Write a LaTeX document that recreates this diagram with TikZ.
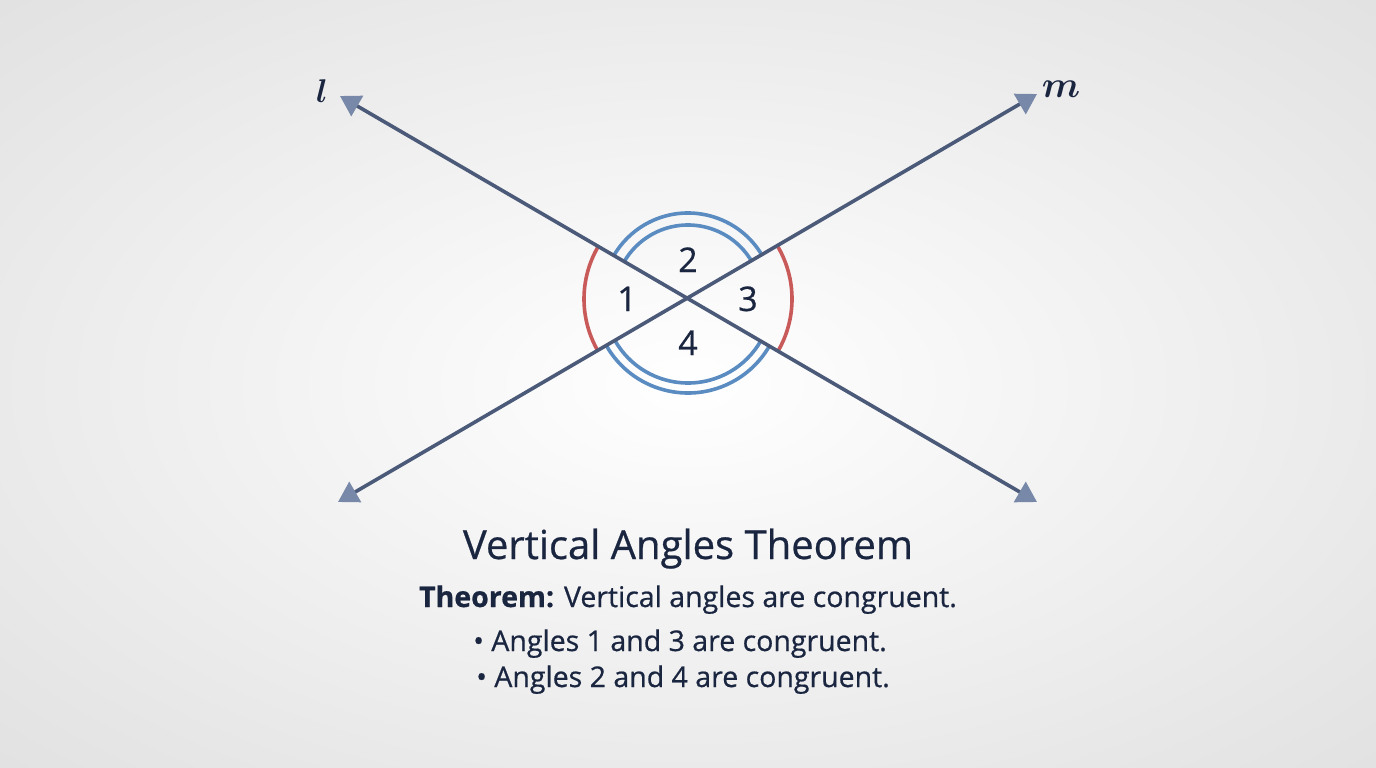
\documentclass[tikz,border=0pt]{standalone}
\usepackage{fontspec}
\setmainfont{Open Sans}
\newfontfamily\medfont{Open Sans}[FakeBold=0.6]
\usetikzlibrary{arrows.meta,calc}
\definecolor{linec}{HTML}{4B5A78}
\definecolor{tipc}{HTML}{7888A8}
\definecolor{redc}{HTML}{C85A5A}
\definecolor{bluec}{HTML}{5A8CC2}
\definecolor{txtc}{HTML}{1A2540}
\definecolor{bgout}{HTML}{D5D5D5}
\definecolor{bgmid}{HTML}{E6E6E6}
\pgfdeclareradialshading{bgshade}{\pgfpoint{0bp}{0bp}}{%
  color(0bp)=(white); color(12bp)=(white!60!bgmid); color(30bp)=(bgmid); color(52bp)=(bgout); color(80bp)=(bgout)}
\begin{document}
\begin{tikzpicture}[x=1pt,y=1pt,
  lineln/.style={draw=linec, line width=3.6pt,
    {Triangle[length=20pt,width=23pt,color=tipc,fill=tipc]}-{Triangle[length=20pt,width=23pt,color=tipc,fill=tipc]}},
  redarc/.style={draw=redc, line width=3.6pt},
  bluearc/.style={draw=bluec, line width=3.6pt},
  num/.style={text=txtc, font=\medfont\fontsize{34}{34}\selectfont, anchor=base, inner sep=0pt},
  lbl/.style={text=txtc, font=\fontsize{17.28}{17.28}\selectfont, inner sep=0pt},
  body/.style={text=txtc, font=\medfont\fontsize{28.5}{28.5}\selectfont, anchor=base, inner sep=0pt}]
\useasboundingbox (0,0) rectangle (1376,-768);
\shade[shading=bgshade] (0,0) rectangle (1376,-768);
% geometry
\coordinate (O) at (688,-299);
\coordinate (l1) at (340,-96);
\coordinate (l2) at (1037,-502);
\coordinate (m1) at (338,-502);
\coordinate (m2) at (1037,-94);
% arcs
\draw[redarc] ($(O)+(150:104)$) arc[start angle=150,end angle=210,radius=104];
\draw[redarc] ($(O)+(-30:104)$) arc[start angle=-30,end angle=30,radius=104];
\draw[bluearc] ($(O)+(30:86)$) arc[start angle=30,end angle=150,radius=86];
\draw[bluearc] ($(O)+(30:74)$) arc[start angle=30,end angle=150,radius=74];
\draw[bluearc] ($(O)+(210:84)$) arc[start angle=210,end angle=330,radius=84];
\draw[bluearc] ($(O)+(210:94)$) arc[start angle=210,end angle=330,radius=94];
% lines
\draw[lineln] (l1) -- (l2);
\draw[lineln] (m1) -- (m2);
% labels
\node[lbl] (ll) at (322,-91) {\scalebox{1.9}{\boldmath$l$}};
\node[lbl] (ml) at (1061,-89) {\scalebox{2.15}{\boldmath$m$}};
\node[num] (n2) at (688,-272) {2};
\node[num] (n1) at (627,-311) {1};
\node[num] (n3) at (748,-311) {3};
\node[num] (n4) at (688,-355) {4};
% text
\node[text=txtc, font=\medfont\fontsize{40}{40}\selectfont, anchor=base, inner sep=0pt] (title) at (688,-559) {Vertical Angles Theorem};
\node[body] (t1) at (688,-607) {\textbf{Theorem:} Vertical angles are congruent.};
\node[body] (t2) at (680,-651) {\textbullet\ Angles 1 and 3 are congruent.};
\node[body] (t3) at (683,-687) {\textbullet\ Angles 2 and 4 are congruent.};
\end{tikzpicture}
\end{document}
